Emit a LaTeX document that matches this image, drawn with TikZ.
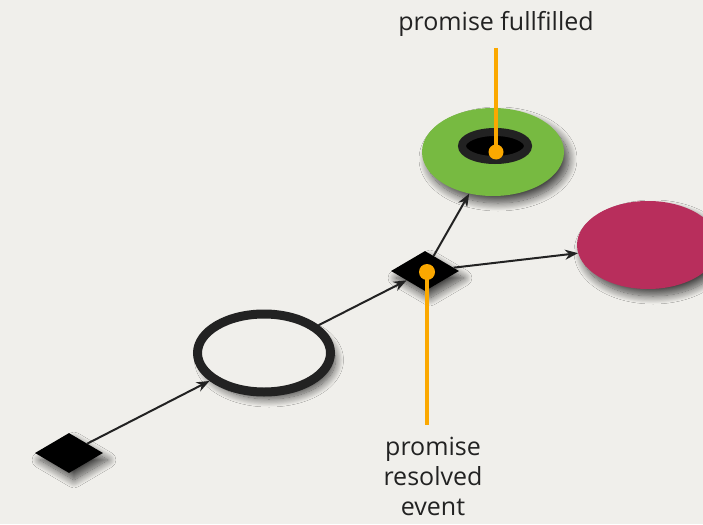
\documentclass[tikz,border=0pt]{standalone}
\usepackage{fontspec}
\setmainfont{Open Sans}
\usetikzlibrary{shapes.geometric,arrows.meta,shadows.blur}
\definecolor{bg}{HTML}{F0EFEB}
\definecolor{ink}{HTML}{222222}
\definecolor{leaf}{HTML}{77BA41}
\definecolor{berry}{HTML}{B82E5C}
\definecolor{amber}{HTML}{FBA800}
\tikzset{
  sh/.style={blur shadow={shadow xshift=5pt,shadow yshift=-7pt,shadow blur steps=15,shadow opacity=70,shadow blur radius=8pt}},
  gate/.style={diamond,fill=black,minimum width=68pt,minimum height=40pt,inner sep=0pt,aspect=1.7,sh},
  flow/.style={ink,line width=2pt,-{Stealth[length=13pt,width=10pt]}},
  pin/.style={amber,line width=3.5pt},
  lbl/.style={font=\fontsize{25}{30}\selectfont,text=ink,align=center}
}
\begin{document}
\begin{tikzpicture}[x=1pt,y=-1pt]
\useasboundingbox[fill=bg] (0,0) rectangle (703,524);
% nodes
\node[gate] (d1) at (69,453) {};
\node[ellipse,draw=ink,fill=bg,line width=9pt,minimum width=133pt,minimum height=78pt,inner sep=0pt,sh] (ring) at (264,353) {};
\node[gate] (d2) at (425,271) {};
\node[ellipse,fill=leaf,minimum width=142pt,minimum height=88pt,inner sep=0pt,sh] (green) at (493,152) {};
\node[ellipse,fill=black,draw=ink,line width=8pt,minimum width=66pt,minimum height=28pt,inner sep=0pt] (core) at (495,146) {};
\node[ellipse,fill=berry,minimum width=142pt,minimum height=88pt,inner sep=0pt,sh] (pink) at (648,245) {};
% connectors
\draw[flow] (d1) -- (ring);
\draw[flow] (ring) -- (d2);
\draw[flow] (d2) -- (green);
\draw[flow] (d2) -- (pink);
% pins
\coordinate (p1top) at (496,48);
\node[circle,fill=amber,minimum size=15pt,inner sep=0pt] (dot1) at (496,152) {};
\draw[pin] (p1top) -- (dot1.center);
\node[circle,fill=amber,minimum size=16pt,inner sep=0pt] (dot2) at (427,272) {};
\coordinate (p2bot) at (427,425);
\draw[pin] (dot2.center) -- (p2bot);
% labels
\node[lbl] (t1) at (496,24) {promise fullfilled};
\node[lbl] (t2) at (433,476) {promise\\resolved\\event};
\end{tikzpicture}
\end{document}
